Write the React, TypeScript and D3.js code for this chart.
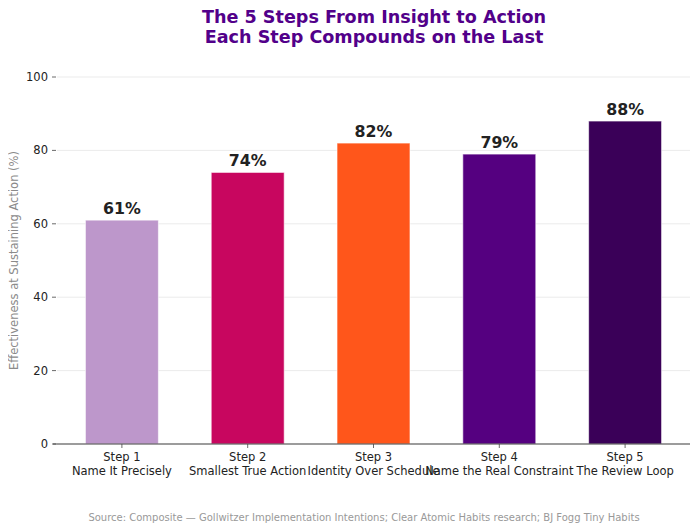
import React, { useEffect, useRef } from "react";
import * as d3 from "d3";

const steps = ["Step 1", "Step 2", "Step 3", "Step 4", "Step 5"];
const names = [
  "Name It Precisely",
  "Smallest True Action",
  "Identity Over Schedule",
  "Name the Real Constraint",
  "The Review Loop",
];
const values = [61, 74, 82, 79, 88];
const colors = ["#BD97CB", "#C8065F", "#FF561B", "#550080", "#3A0058"];
const yTicks = [0, 20, 40, 60, 80, 100];

const App = () => {
  const ref = useRef<SVGSVGElement>(null);

  useEffect(() => {
    if (!ref.current) return;
    const width = 700;
    const height = 531;
    const margin = { top: 77, right: 10, bottom: 87, left: 56 };

    const svg = d3.select(ref.current);
    svg.selectAll("*").remove();
    svg.attr("width", width).attr("height", height);

    const font = "DejaVu Sans, sans-serif";

    const x = d3
      .scaleBand()
      .domain(steps)
      .range([59, 688])
      .paddingInner(0.42)
      .paddingOuter(0.21);

    const y = d3
      .scaleLinear()
      .domain([0, 100])
      .range([height - margin.bottom, margin.top]);

    // gridlines
    svg
      .append("g")
      .selectAll("line")
      .data(yTicks)
      .join("line")
      .attr("x1", margin.left + 1)
      .attr("x2", width - margin.right)
      .attr("y1", (d) => y(d))
      .attr("y2", (d) => y(d))
      .attr("stroke", "#e6e6e6")
      .attr("stroke-width", 0.8);

    // bars
    svg
      .append("g")
      .selectAll("rect")
      .data(values)
      .join("rect")
      .attr("x", (_, i) => x(steps[i])!)
      .attr("y", (d) => y(d))
      .attr("width", x.bandwidth())
      .attr("height", (d) => y(0) - y(d))
      .attr("fill", (_, i) => colors[i])
      .attr("stroke", "rgba(255,255,255,0.6)")
      .attr("stroke-width", 1);

    // value labels
    svg
      .append("g")
      .selectAll("text")
      .data(values)
      .join("text")
      .attr("x", (_, i) => x(steps[i])! + x.bandwidth() / 2)
      .attr("y", (d) => y(d) - 6)
      .attr("text-anchor", "middle")
      .style("font-family", font)
      .style("font-size", "15.8px")
      .style("font-weight", "bold")
      .style("fill", "#222")
      .text((d) => `${d}%`);

    // x axis line
    svg
      .append("line")
      .attr("x1", 53)
      .attr("x2", width - margin.right)
      .attr("y1", y(0))
      .attr("y2", y(0))
      .attr("stroke", "#444")
      .attr("stroke-width", 1.2);

    // x ticks
    const xt = svg
      .append("g")
      .selectAll("g")
      .data(steps)
      .join("g")
      .attr("transform", (d) => `translate(${x(d)! + x.bandwidth() / 2},${y(0)})`);
    xt.append("line").attr("y1", 0).attr("y2", 4).attr("stroke", "#444").attr("stroke-width", 0.8);
    xt.append("text")
      .attr("y", 17)
      .attr("text-anchor", "middle")
      .style("font-family", font)
      .style("font-size", "11.5px")
      .style("fill", "#222")
      .text((d) => d);
    xt.append("text")
      .attr("y", 31)
      .attr("text-anchor", "middle")
      .style("font-family", font)
      .style("font-size", "11.5px")
      .style("fill", "#222")
      .text((_, i) => names[i]);

    // y ticks
    const yt = svg
      .append("g")
      .selectAll("g")
      .data(yTicks)
      .join("g")
      .attr("transform", (d) => `translate(${margin.left},${y(d)})`);
    yt.append("line").attr("x1", -4).attr("x2", 0).attr("stroke", "#444").attr("stroke-width", 0.8);
    yt.append("text")
      .attr("x", -8)
      .attr("dy", "0.35em")
      .attr("text-anchor", "end")
      .style("font-family", font)
      .style("font-size", "11.5px")
      .style("fill", "#222")
      .text((d) => d);

    // y label
    svg
      .append("text")
      .attr("transform", `translate(18,${(y(0) + y(100)) / 2}) rotate(-90)`)
      .attr("text-anchor", "middle")
      .style("font-family", font)
      .style("font-size", "11.5px")
      .style("fill", "#8a8a8a")
      .text("Effectiveness at Sustaining Action (%)");

    // title
    const title = svg
      .append("text")
      .attr("text-anchor", "middle")
      .style("font-family", font)
      .style("font-size", "17.6px")
      .style("font-weight", "bold")
      .style("fill", "#52008A");
    title.append("tspan").attr("x", 374).attr("y", 23).text("The 5 Steps From Insight to Action");
    title.append("tspan").attr("x", 374).attr("y", 43).text("Each Step Compounds on the Last");

    // source
    svg
      .append("text")
      .attr("x", 364)
      .attr("y", 521)
      .attr("text-anchor", "middle")
      .style("font-family", font)
      .style("font-size", "10px")
      .style("fill", "#999")
      .text(
        "Source: Composite \u2014 Gollwitzer Implementation Intentions; Clear Atomic Habits research; BJ Fogg Tiny Habits"
      );
  }, []);

  return <svg ref={ref} style={{ display: "block", margin: -8 }}></svg>;
};

export default App;
